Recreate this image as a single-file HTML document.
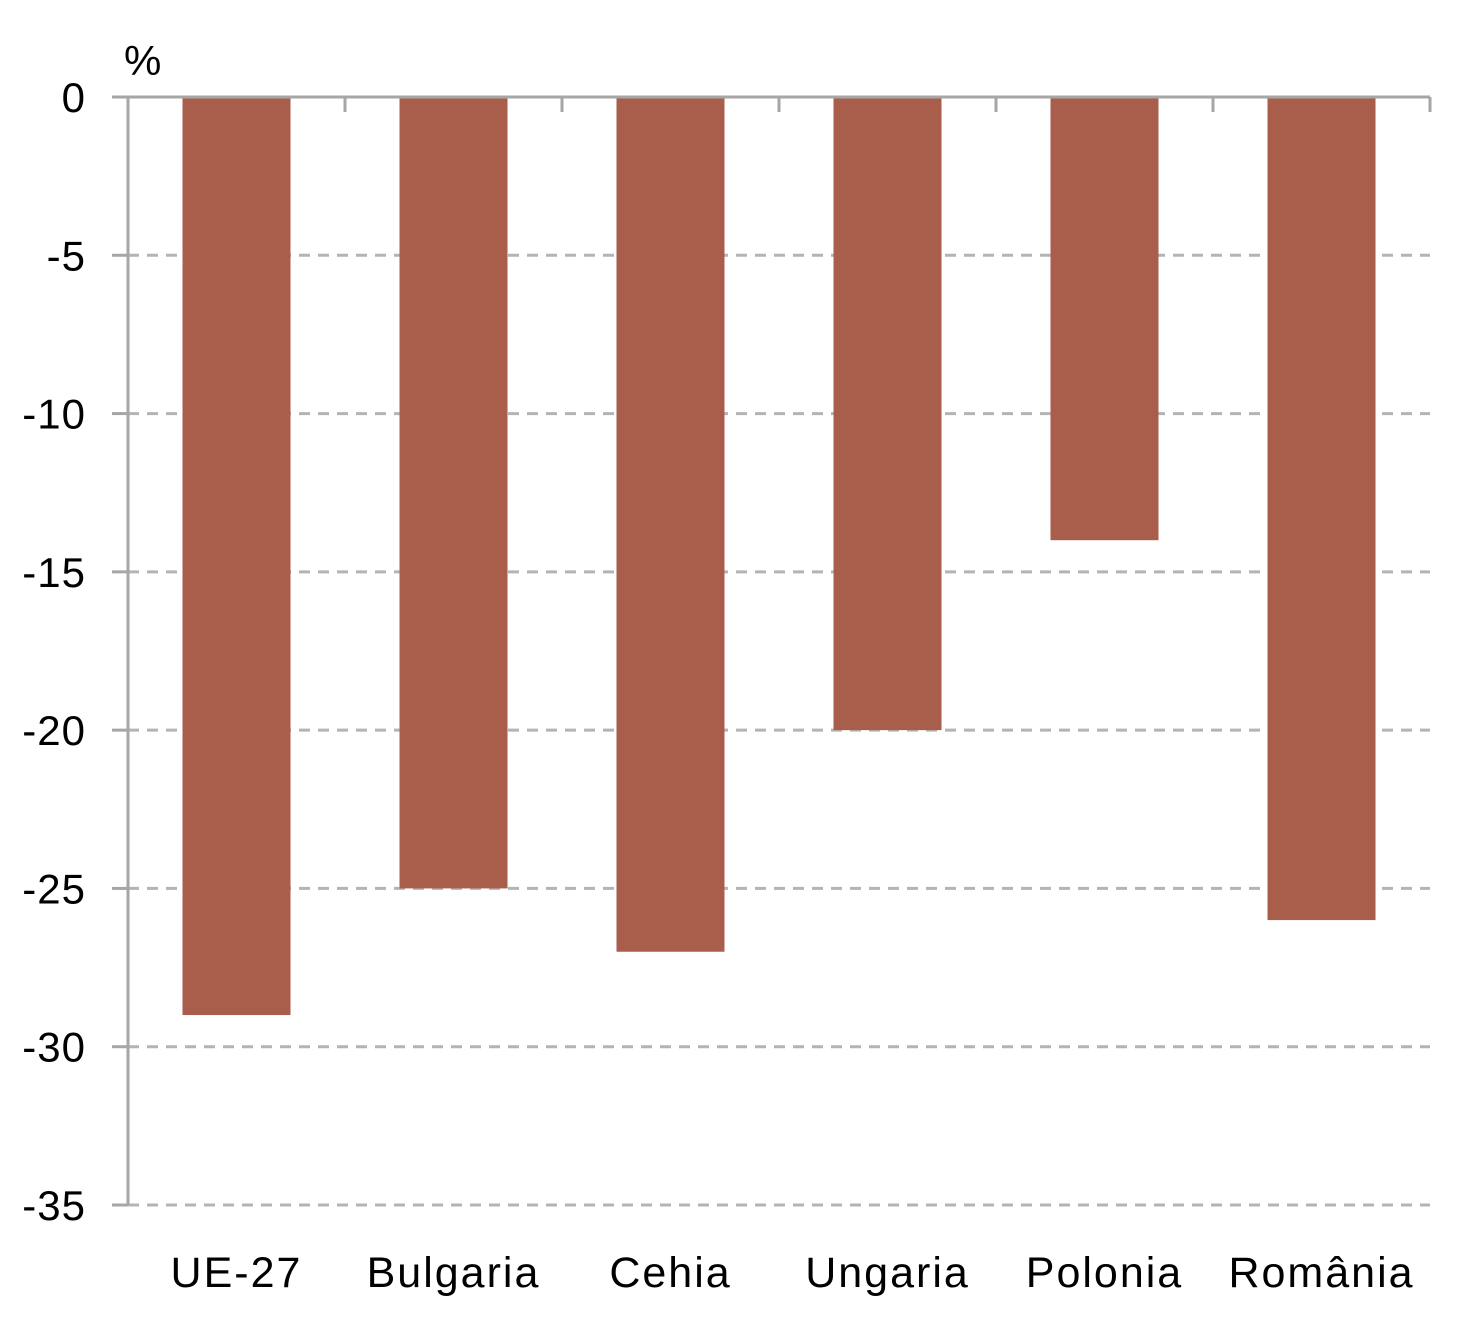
<!DOCTYPE html>
<html><head><meta charset="utf-8"><style>
html,body{margin:0;padding:0;background:#fff;}
svg{display:block;}
text{font-family:"Liberation Sans",sans-serif;fill:#000;}
</style></head><body>
<svg id="chart" width="1480" height="1337"></svg>
<script>
const categories = ["UE-27","Bulgaria","Cehia","Ungaria","Polonia","România"];
const values = [-29,-25,-27,-20,-14,-26];
const yTicks = [0,-5,-10,-15,-20,-25,-30,-35];
const NS="http://www.w3.org/2000/svg";
const svg=document.getElementById('chart');
const x0=128,x1=1430,y0=97,yEnd=1205;
const yScale=v=>y0+(-v)/35*(yEnd-y0);
const band=(x1-x0)/categories.length;
function mk(tag,attrs){const e=document.createElementNS(NS,tag);for(const k in attrs)e.setAttribute(k,attrs[k]);svg.appendChild(e);return e;}
yTicks.forEach(t=>{
  if(t!==0){
    const g=mk('line',{x1:x0,x2:x1,y1:yScale(t),y2:yScale(t),stroke:'#b4b4b4','stroke-width':3,'stroke-dasharray':'11,8'});
    
    
  }
  const tk=mk('line',{x1:112,x2:x0,y1:yScale(t),y2:yScale(t),stroke:'#a6a6a6','stroke-width':3});
  
  
  const lb=mk('text',{x:86,y:yScale(t)+15,'text-anchor':'end','font-size':42,'letter-spacing':1});
  lb.textContent=t;
  
  
});
categories.forEach((c,i)=>{
  const cx=x0+band*(i+0.5);
  const r=mk('rect',{x:cx-54,y:y0,width:108,height:yScale(values[i])-y0,fill:'#a95e4c'});
  
  
  const lb=mk('text',{x:cx,y:1287,'text-anchor':'middle','font-size':43,'letter-spacing':2});
  lb.textContent=c;
  
  
});
for(let i=0;i<=categories.length;i++){
  const x=x0+band*i;
  const t=mk('line',{x1:x,x2:x,y1:y0,y2:y0+15,stroke:'#a6a6a6','stroke-width':3});
  
  
}
const ya=mk('line',{x1:x0,x2:x0,y1:y0,y2:yEnd,stroke:'#a6a6a6','stroke-width':3});


const xa=mk('line',{x1:112,x2:x1,y1:y0,y2:y0,stroke:'#a6a6a6','stroke-width':3});


const u=mk('text',{x:124,y:75,'font-size':42});
u.textContent='%';


</script>
</body></html>
